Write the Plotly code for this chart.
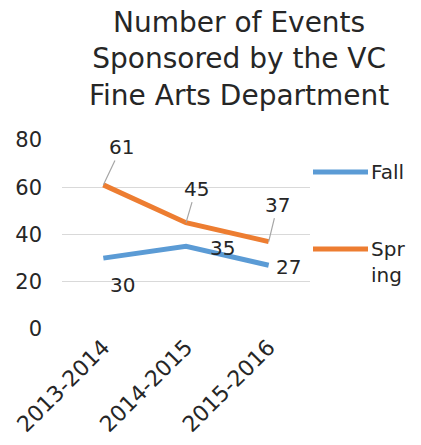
import plotly.graph_objects as go

# Chart data
seasons = ["2013-2014", "2014-2015", "2015-2016"]
fall = [30, 35, 27]
spring = [61, 45, 37]
series_names = ["Fall", "Spring"]
legend_texts = ["Fall", "Spr<br>ing"]
colors = ["#5B9BD5", "#ED7D31"]
y_ticks = [0, 20, 40, 60, 80]
title_text = "Number of Events<br>Sponsored by the VC<br>Fine Arts Department"

FONT = "DejaVu Sans"
TXT = "#262626"
W, H = 421, 445
ML, MR, MT, MB = 62, 111, 140, 116
plot_w = W - ML - MR
plot_h = H - MT - MB

fig = go.Figure()
for name, vals, col in zip(series_names, [fall, spring], colors):
    fig.add_trace(go.Scatter(
        x=seasons, y=vals, mode="lines", name=name,
        line=dict(color=col, width=5), showlegend=False,
        hoverinfo="x+y+name",
    ))

# Data labels: (dx, dy) screen offsets in pixels (down is positive), leader line flag
fall_offsets = [(19, 27, False), (36, 2, False), (20, 2, False)]
spring_offsets = [(18, -38, True), (10, -34, True), (9, -37, True)]
annotations = []
for vals, offs in [(fall, fall_offsets), (spring, spring_offsets)]:
    for cat, v, (dx, dy, leader) in zip(seasons, vals, offs):
        if leader:
            annotations.append(dict(
                x=cat, y=v, xref="x", yref="y", text=str(v),
                showarrow=True, arrowhead=0, arrowwidth=1.2,
                arrowcolor="#A6A6A6", ax=dx, ay=dy, standoff=0,
                font=dict(family=FONT, size=20, color=TXT),
            ))
        else:
            annotations.append(dict(
                x=cat, y=v, xref="x", yref="y", text=str(v),
                showarrow=False, xshift=dx, yshift=-dy,
                font=dict(family=FONT, size=20, color=TXT),
            ))


def px_x(p):
    return (p - ML) / plot_w


def px_y(p):
    return (H - MB - p) / plot_h


# Legend drawn beside the plot area
shapes = []
for txt, col, yy in zip(legend_texts, colors, [172, 249]):
    shapes.append(dict(
        type="line", xref="paper", yref="paper",
        x0=px_x(313), x1=px_x(368), y0=px_y(yy), y1=px_y(yy),
        line=dict(color=col, width=5),
    ))
    annotations.append(dict(
        xref="paper", yref="paper", x=px_x(369), y=px_y(yy - 14),
        xanchor="left", yanchor="top", align="left", text=txt,
        showarrow=False, font=dict(family=FONT, size=20, color=TXT),
    ))

# Three-line chart title
annotations.append(dict(
    xref="paper", yref="paper", x=px_x(239), y=px_y(4),
    xanchor="center", yanchor="top", align="center", text=title_text,
    showarrow=False, font=dict(family=FONT, size=28, color=TXT),
))

fig.update_layout(
    width=W, height=H,
    margin=dict(l=ML, r=MR, t=MT, b=MB, autoexpand=False),
    paper_bgcolor="white", plot_bgcolor="white",
    xaxis=dict(
        type="category", range=[-0.5, 2.5], showgrid=False,
        showline=False, zeroline=False, tickangle=-45, automargin=False,
        tickfont=dict(family=FONT, size=22, color=TXT),
    ),
    yaxis=dict(
        range=[0, 80], tickvals=y_ticks, showgrid=True,
        gridcolor="#D9D9D9", gridwidth=1, zeroline=False, showline=False,
        ticklabelstandoff=19, automargin=False,
        tickfont=dict(family=FONT, size=21, color=TXT),
    ),
    shapes=shapes,
    annotations=annotations,
    showlegend=False,
)

fig.write_html("out.html")
